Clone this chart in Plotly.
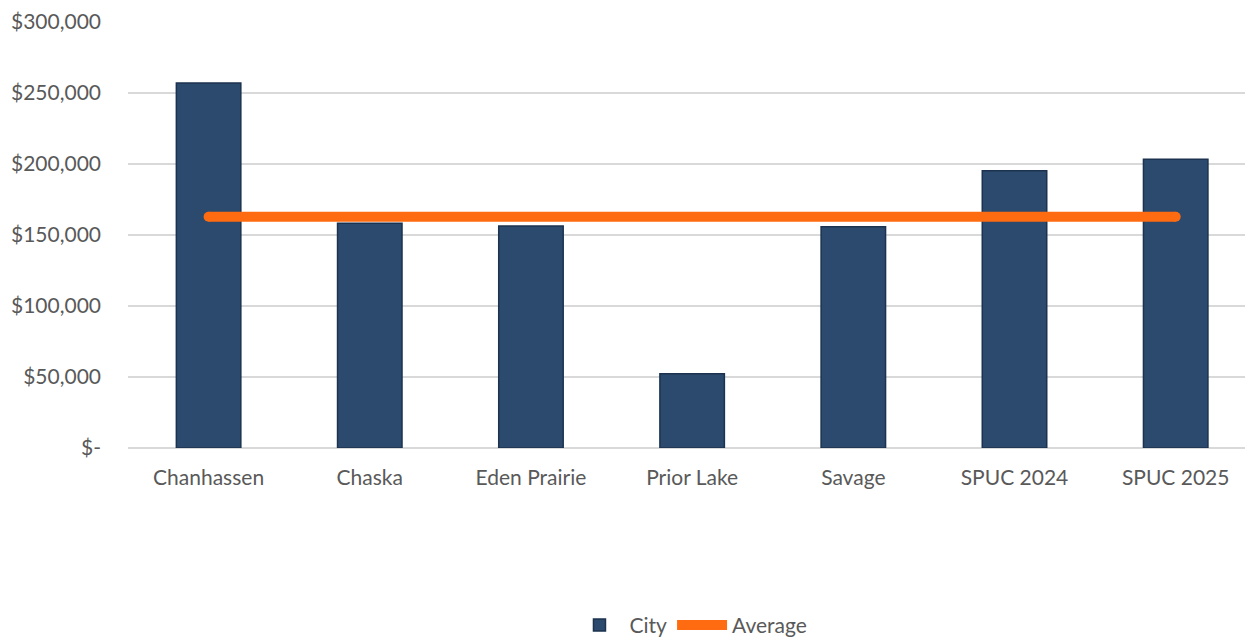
import plotly.graph_objects as go

categories = ["Chanhassen", "Chaska", "Eden Prairie", "Prior Lake", "Savage", "SPUC 2024", "SPUC 2025"]
city_values = [257000, 158200, 156300, 52300, 155800, 195300, 203300]
average_value = 162800
average_values = [average_value] * len(categories)
tick_vals = [0, 50000, 100000, 150000, 200000, 250000, 300000]
tick_text = ["$-", "$50,000", "$100,000", "$150,000", "$200,000", "$250,000", "$300,000"]

FONT = "Lato, 'Open Sans', sans-serif"
TXT = "#595959"
ORANGE = "#FF6B10"
FS = 21

fig = go.Figure()
fig.add_trace(go.Bar(
    x=categories, y=city_values, name="City",
    marker=dict(color="#2C4A6E", line=dict(color="#1C324E", width=1.5)),
    width=0.4,
))
fig.add_trace(go.Scatter(
    x=categories, y=average_values, name="Average", mode="lines",
    line=dict(color=ORANGE, width=10),
))
# rounded line ends
fig.add_trace(go.Scatter(
    x=[categories[0], categories[-1]], y=[average_value, average_value],
    mode="markers", showlegend=False, hoverinfo="skip",
    marker=dict(color=ORANGE, size=10, line=dict(width=0)),
))

fig.update_layout(
    width=1245, height=638,
    margin=dict(l=128, r=0, t=22, b=190, autoexpand=False),
    plot_bgcolor="white", paper_bgcolor="white",
    font=dict(family=FONT, size=FS, color=TXT),
    showlegend=True,
    legend=dict(orientation="h", x=0.555, xanchor="center", xref="container",
                y=0.02, yanchor="middle", yref="container",
                font=dict(family=FONT, size=FS, color=TXT), itemwidth=50,
                tracegroupgap=0),
)
fig.update_xaxes(
    range=[-0.5, 6.43], showgrid=False, showline=False, zeroline=False, automargin=False,
    tickfont=dict(family=FONT, size=FS, color=TXT), ticks="", ticklabelstandoff=15,
)
fig.update_yaxes(
    range=[0, 300000], tickvals=tick_vals, ticktext=tick_text, automargin=False,
    showgrid=True, gridcolor="#D9D9D9", gridwidth=1.5, zeroline=True,
    zerolinecolor="#D9D9D9", zerolinewidth=1.5, showline=False,
    tickfont=dict(family=FONT, size=FS, color=TXT), ticks="", ticklabelstandoff=26,
)

fig.write_html("out.html")
